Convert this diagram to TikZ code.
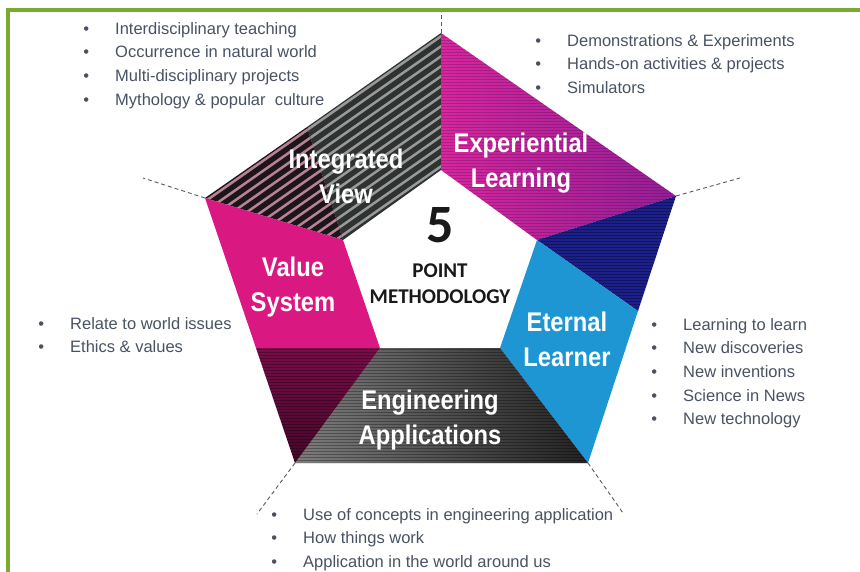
\documentclass[tikz,border=0pt]{standalone}
\usepackage{fontspec}
\setmainfont{Liberation Sans}
\newfontfamily\segfont[FakeStretch=0.88]{Liberation Sans}
\newfontfamily\ctrfont{Carlito}
\definecolor{frame}{RGB}{122,171,47}
\definecolor{listgray}{RGB}{72,82,98}
\definecolor{guidegray}{RGB}{90,90,90}
\definecolor{ivblack}{RGB}{28,22,26}
\definecolor{ivgray}{RGB}{46,50,48}
\definecolor{expink}{RGB}{216,38,158}
\definecolor{expurple}{RGB}{148,30,150}
\definecolor{elnavy}{RGB}{28,30,138}
\definecolor{elblue}{RGB}{30,150,212}
\definecolor{vsmagenta}{RGB}{218,24,130}
\definecolor{vsdark}{RGB}{96,10,58}
\definecolor{eadark}{RGB}{34,34,34}
\definecolor{ealight}{RGB}{125,125,125}
\tikzstyle{segtext} = [text=white, align=center, font=\segfont\bfseries\fontsize{27}{35}\selectfont]
\tikzstyle{bullets} = [anchor=north west, inner sep=0pt, align=left, text=listgray, font=\fontsize{16.5}{23.7}\selectfont]
\tikzstyle{guide} = [draw=guidegray, line width=0.9pt, dash pattern=on 4pt off 3pt]
\tikzstyle{dstripe} = [line width=2.5pt]
\tikzstyle{hstripe} = [line width=0.9pt, opacity=0.3]
\newcommand{\bitem}[1]{\llap{\textbullet\hspace{26pt}}#1}

\begin{document}
\begin{tikzpicture}[x=1pt, y=-1pt]
\useasboundingbox (0,0) rectangle (860,572);
% frame, top and left only
\draw[frame, line width=4pt] (8,572) -- (8,10) -- (860,10);

% outer and inner pentagon corners
\coordinate (o1) at (441,33);
\coordinate (o2) at (676,196);
\coordinate (o3) at (588,463);
\coordinate (o4) at (295,463);
\coordinate (o5) at (205,198);
\coordinate (i1) at (441,170);
\coordinate (i2) at (537,240);
\coordinate (i3) at (500,348);
\coordinate (i4) at (380,348);
\coordinate (i5) at (343,240);
\coordinate (ivsplit) at (307,127);
\coordinate (elsplit) at (638,311);
\coordinate (vssplit) at (256,348);

% integrated view, diagonal stripes
\fill[ivgray] (o1) -- (ivsplit) -- (i5) -- (i1) -- cycle;
\begin{scope}
\clip (o1) -- (ivsplit) -- (i5) -- (i1) -- cycle;
\foreach \k in {0,...,16} \draw[dstripe, gray!80] (150,{230+10*\k}) -- ++(320,-224);
\end{scope}
\fill[ivblack] (o5) -- (ivsplit) -- (i5) -- cycle;
\begin{scope}
\clip (o5) -- (ivsplit) -- (i5) -- cycle;
\foreach \k in {0,...,16} \draw[dstripe, gray!60!purple!70] (150,{230+10*\k}) -- ++(320,-224);
\end{scope}

% experiential learning
\shade[left color=expink, right color=expurple] (o1) -- (o2) -- (i2) -- (i1) -- cycle;
\begin{scope}
\clip (o1) -- (o2) -- (i2) -- (i1) -- cycle;
\foreach \y in {34,37,...,240} \draw[hstripe, expurple!50!black] (441,\y) -- (676,\y);
\end{scope}

% eternal learner
\fill[elnavy] (o2) -- (elsplit) -- (i2) -- cycle;
\begin{scope}
\clip (o2) -- (elsplit) -- (i2) -- cycle;
\foreach \y in {196,199,...,312} \draw[hstripe, black] (537,\y) -- (676,\y);
\end{scope}
\fill[elblue] (i2) -- (elsplit) -- (o3) -- (i3) -- cycle;

% engineering applications
\shade[left color=ealight, right color=eadark] (o4) -- (o3) -- (i3) -- (i4) -- cycle;
\begin{scope}
\clip (o4) -- (o3) -- (i3) -- (i4) -- cycle;
\foreach \y in {349,352,...,463} \draw[hstripe, black] (295,\y) -- (588,\y);
\end{scope}

% value system
\fill[vsmagenta] (o5) -- (vssplit) -- (i4) -- (i5) -- cycle;
\shade[top color=vsdark!80!vsmagenta, bottom color=vsdark!70!black] (vssplit) -- (o4) -- (i4) -- cycle;
\begin{scope}
\clip (vssplit) -- (o4) -- (i4) -- cycle;
\foreach \y in {349,352,...,463} \draw[hstripe, black] (256,\y) -- (380,\y);
\end{scope}

% segment labels
\node (iv) [segtext] at (346,176) {Integrated\\View};
\node (el) [segtext] at (521,163) {Experiential\\Learning};
\node (vs) [segtext] at (293,287) {Value\\System};
\node (et) [segtext] at (567,339) {Eternal\\Learner};
\node (ea) [segtext] at (430,420) {Engineering\\Applications};

% centre
\node (five) [font=\ctrfont\bfseries\fontsize{54}{54}\selectfont, text=black!90] at (440,225) {5};
\node (method) [font=\ctrfont\bfseries\fontsize{21}{26}\selectfont, text=black!90, align=center] at (440,284) {POINT\\METHODOLOGY};

% guide lines
\coordinate (t1) at (441,12);
\coordinate (t2) at (740,178);
\coordinate (t3) at (623,513);
\coordinate (t4) at (257,514);
\coordinate (t5) at (143,178);
\draw[guide] (o1) -- (t1);
\draw[guide] (o2) -- (t2);
\draw[guide] (o3) -- (t3);
\draw[guide] (o4) -- (t4);
\draw[guide] (o5) -- (t5);

% bullet lists
\node (ivlist) [bullets] at (115,22) {\bitem{Interdisciplinary teaching}\\\bitem{Occurrence in natural world}\\\bitem{Multi-disciplinary projects}\\\bitem{Mythology \& popular\ \ culture}};
\node (ellist) [bullets] at (567,34) {\bitem{Demonstrations \& Experiments}\\\bitem{Hands-on activities \& projects}\\\bitem{Simulators}};
\node (vslist) [bullets] at (70,317) {\bitem{Relate to world issues}\\\bitem{Ethics \& values}};
\node (etlist) [bullets] at (683,318) {\bitem{Learning to learn}\\\bitem{New discoveries}\\\bitem{New inventions}\\\bitem{Science in News}\\\bitem{New technology}};
\node (ealist) [bullets] at (303,508) {\bitem{Use of concepts in engineering application}\\\bitem{How things work}\\\bitem{Application in the world around us}};
\end{tikzpicture}
\end{document}
